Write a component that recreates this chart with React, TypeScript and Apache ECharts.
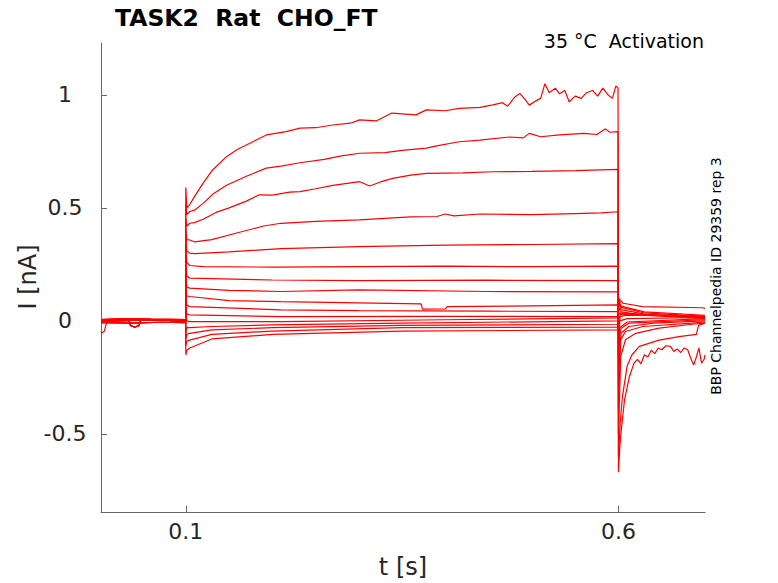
import { useEffect, useRef } from 'react';
import * as echarts from 'echarts';

// time in s, current in nA
const xTicks = [0.1, 0.6];
const yTicks = [-0.5, 0, 0.5, 1];

const preA = [[0.002, -0.055], [0.004, -0.05], [0.006, -0.045], [0.0075, -0.02], [0.009, -0.005], [0.012, 0.003], [0.03, 0.0], [0.05, 0.004], [0.0998, 0.002]];
const preB = [[0.002, 0.002], [0.01, 0.0], [0.02, 0.006], [0.034, 0.004], [0.036, -0.02], [0.041, -0.028], [0.046, -0.02], [0.048, 0.005], [0.07, 0.003], [0.0998, 0.0]];
const preC = [[0.002, -0.003], [0.02, 0.0], [0.05, 0.005], [0.08, 0.002], [0.0998, -0.002]];
const preD = [[0.002, 0.006], [0.03, 0.01], [0.06, 0.008], [0.0998, 0.006]];
const preE = [[0.002, -0.008], [0.04, -0.01], [0.07, -0.006], [0.0998, -0.008]];

const step1 = [[0.1, 0.59], [0.1012, 0.5], [0.1046, 0.515], [0.11, 0.55], [0.12, 0.61], [0.131, 0.668], [0.147, 0.727], [0.16, 0.76], [0.174, 0.786], [0.193, 0.823], [0.216, 0.838], [0.232, 0.853], [0.25, 0.855], [0.27, 0.867], [0.29, 0.875], [0.301, 0.89], [0.32, 0.885], [0.338, 0.92], [0.366, 0.912], [0.378, 0.934], [0.4, 0.93], [0.416, 0.941], [0.44, 0.945], [0.455, 0.956], [0.466, 0.966], [0.472, 0.95], [0.48, 0.99], [0.486, 1.007], [0.492, 0.98], [0.497, 0.955], [0.505, 0.975], [0.51, 0.985], [0.515, 1.05], [0.52, 1.01], [0.527, 1.03], [0.532, 1.005], [0.538, 1.02], [0.543, 0.97], [0.55, 0.995], [0.557, 0.985], [0.563, 1.01], [0.57, 1.02], [0.576, 0.995], [0.582, 1.03], [0.588, 1.0], [0.593, 0.985], [0.597, 1.04], [0.5995, 1.03]];
const tail1 = [[0.6, -0.67], [0.6015, -0.56], [0.6033, -0.48], [0.607, -0.35], [0.6127, -0.246], [0.618, -0.187], [0.622, -0.17], [0.626, -0.19], [0.63, -0.15], [0.634, -0.16], [0.638, -0.13], [0.642, -0.145], [0.646, -0.12], [0.65, -0.128], [0.655, -0.11], [0.66, -0.113], [0.664, -0.135], [0.668, -0.125], [0.672, -0.14], [0.676, -0.12], [0.68, -0.128], [0.684, -0.17], [0.687, -0.195], [0.69, -0.16], [0.693, -0.12], [0.696, -0.187], [0.699, -0.17], [0.7, -0.15]];

const step2 = [[0.1, 0.52], [0.1012, 0.47], [0.1046, 0.484], [0.11, 0.49], [0.12, 0.52], [0.131, 0.56], [0.147, 0.6], [0.17, 0.64], [0.193, 0.676], [0.21, 0.685], [0.232, 0.7], [0.26, 0.715], [0.28, 0.73], [0.301, 0.742], [0.33, 0.745], [0.35, 0.755], [0.378, 0.765], [0.39, 0.775], [0.416, 0.793], [0.44, 0.8], [0.474, 0.814], [0.49, 0.81], [0.497, 0.83], [0.51, 0.815], [0.532, 0.823], [0.56, 0.83], [0.575, 0.825], [0.585, 0.85], [0.59, 0.835], [0.5995, 0.838]];
const tail2 = [[0.6, -0.6], [0.602, -0.45], [0.6046, -0.335], [0.61, -0.2], [0.6156, -0.15], [0.6242, -0.113], [0.647, -0.085], [0.67, -0.07], [0.69, -0.06], [0.6925, -0.02], [0.7, -0.01]];

const step3 = [[0.1, 0.45], [0.1012, 0.42], [0.1046, 0.432], [0.11, 0.435], [0.12, 0.45], [0.135, 0.48], [0.15, 0.5], [0.17, 0.53], [0.185, 0.558], [0.2, 0.557], [0.22, 0.57], [0.232, 0.572], [0.25, 0.585], [0.27, 0.6], [0.301, 0.616], [0.3125, 0.597], [0.325, 0.615], [0.339, 0.631], [0.36, 0.645], [0.378, 0.653], [0.42, 0.655], [0.455, 0.66], [0.5, 0.662], [0.55, 0.665], [0.5995, 0.671]];
const tail3 = [[0.6, -0.5], [0.6015, -0.3], [0.6025, -0.158], [0.6081, -0.084], [0.62, -0.055], [0.647, -0.032], [0.685, -0.015], [0.7, -0.01]];

const step4 = [[0.1, 0.4], [0.1012, 0.36], [0.1046, 0.358], [0.11, 0.35], [0.13, 0.36], [0.16, 0.39], [0.19, 0.42], [0.21, 0.432], [0.25, 0.44], [0.3, 0.447], [0.36, 0.46], [0.39, 0.462], [0.4, 0.473], [0.41, 0.465], [0.44, 0.473], [0.5, 0.47], [0.55, 0.475], [0.58, 0.478], [0.5995, 0.483]];
const tail4 = [[0.6, -0.4], [0.6015, -0.2], [0.6025, -0.084], [0.6081, -0.047], [0.628, -0.025], [0.685, -0.01], [0.7, -0.005]];

const step5 = [[0.1, 0.36], [0.1012, 0.31], [0.1046, 0.3], [0.11, 0.298], [0.15, 0.305], [0.21, 0.32], [0.3, 0.329], [0.4, 0.335], [0.5, 0.338], [0.5995, 0.342]];
const tail5 = [[0.6, -0.3], [0.6015, -0.12], [0.603, -0.055], [0.612, -0.025], [0.64, -0.01], [0.7, 0.0]];

const step6 = [[0.1, 0.3], [0.1012, 0.26], [0.1046, 0.245], [0.12, 0.24], [0.2, 0.238], [0.3, 0.24], [0.4, 0.242], [0.5, 0.24], [0.5995, 0.242]];
const tail6 = [[0.6, -0.2], [0.6015, -0.06], [0.603, -0.033], [0.612, -0.01], [0.7, 0.005]];

const step7 = [[0.1, 0.25], [0.1012, 0.2], [0.1046, 0.189], [0.2, 0.181], [0.3, 0.178], [0.45, 0.18], [0.5995, 0.178]];
const tail7 = [[0.6, -0.15], [0.6015, -0.03], [0.61, -0.005], [0.7, 0.01]];

const step8 = [[0.1, 0.2], [0.1012, 0.15], [0.1046, 0.145], [0.15, 0.135], [0.21, 0.13], [0.3, 0.137], [0.45, 0.13], [0.5995, 0.128]];
const tail8 = [[0.6, -0.1], [0.6015, 0.0], [0.61, 0.01], [0.7, 0.015]];

const step9 = [[0.1, 0.15], [0.1012, 0.11], [0.1046, 0.108], [0.15, 0.09], [0.21, 0.085], [0.3, 0.08], [0.372, 0.075], [0.3735, 0.052], [0.4, 0.053], [0.402, 0.063], [0.5, 0.066], [0.5995, 0.071]];
const tail9 = [[0.6, -0.05], [0.602, 0.02], [0.61, 0.025], [0.7, 0.02]];

const step10 = [[0.1, 0.1], [0.1012, 0.07], [0.1046, 0.063], [0.21, 0.049], [0.3, 0.045], [0.45, 0.043], [0.5995, 0.041]];
const tail10 = [[0.6, 0.0], [0.602, 0.03], [0.7, 0.02]];

const step11 = [[0.1, 0.06], [0.1012, 0.03], [0.1046, 0.027], [0.21, 0.019], [0.4, 0.02], [0.5995, 0.019]];
const tail11 = [[0.6, 0.03], [0.602, 0.035], [0.64, 0.025], [0.7, 0.015]];

const step12 = [[0.1, 0.03], [0.1012, 0.0], [0.1046, -0.003], [0.21, -0.003], [0.4, 0.005], [0.5995, 0.013]];
const tail12 = [[0.6, 0.06], [0.603, 0.04], [0.63, 0.025], [0.7, 0.01]];

const step13 = [[0.1, -0.05], [0.1012, -0.03], [0.1046, -0.03], [0.13, -0.025], [0.2, -0.018], [0.35, -0.01], [0.5995, 0.0]];
const tail13 = [[0.6, 0.08], [0.603, 0.05], [0.63, 0.03], [0.7, 0.015]];

const step14 = [[0.1, -0.08], [0.1012, -0.06], [0.1046, -0.055], [0.13, -0.04], [0.2, -0.03], [0.35, -0.02], [0.5995, -0.015]];
const tail14 = [[0.6, 0.09], [0.603, 0.06], [0.63, 0.035], [0.7, 0.02]];

const step15 = [[0.1, -0.11], [0.1012, -0.09], [0.1046, -0.085], [0.13, -0.06], [0.2, -0.045], [0.35, -0.03], [0.5995, -0.028]];
const tail15 = [[0.6, 0.1], [0.603, 0.065], [0.63, 0.04], [0.7, 0.025]];

const step16 = [[0.1, -0.15], [0.1012, -0.13], [0.1046, -0.12], [0.13, -0.08], [0.2, -0.06], [0.35, -0.045], [0.5995, -0.04]];
const tail16 = [[0.6, 0.11], [0.6005, 0.1], [0.6052, 0.078], [0.628, 0.063], [0.697, 0.058], [0.7, 0.055]];

const traces = [
  [...preA, ...step1, ...tail1],
  [...preC, ...step2, ...tail2],
  [...preB, ...step3, ...tail3],
  [...preD, ...step4, ...tail4],
  [...preC, ...step5, ...tail5],
  [...preB, ...step6, ...tail6],
  [...preE, ...step7, ...tail7],
  [...preD, ...step8, ...tail8],
  [...preB, ...step9, ...tail9],
  [...preC, ...step10, ...tail10],
  [...preE, ...step11, ...tail11],
  [...preD, ...step12, ...tail12],
  [...preB, ...step13, ...tail13],
  [...preC, ...step14, ...tail14],
  [...preE, ...step15, ...tail15],
  [...preC, ...step16, ...tail16],
];

const FONT = '"DejaVu Sans", sans-serif';
const AXIS_GRAY = '#666666';

export default function App() {
  const chartRef = useRef<HTMLDivElement>(null);

  useEffect(() => {
    if (!chartRef.current) return;
    const chart = echarts.init(chartRef.current, undefined, { renderer: 'svg' });

    chart.setOption({
      animation: false,
      backgroundColor: '#ffffff',
      grid: { left: 101, right: 73, top: 43, bottom: 71, containLabel: false },
      xAxis: {
        type: 'value',
        min: 0.002,
        max: 0.7,
        splitLine: { show: false },
        axisLine: { show: true, onZero: false, lineStyle: { color: AXIS_GRAY, width: 1 } },
        axisTick: { show: true, inside: true, length: 6, customValues: xTicks, lineStyle: { color: AXIS_GRAY } },
        axisLabel: {
          customValues: xTicks,
          color: '#262626',
          fontSize: 22,
          fontFamily: FONT,
          margin: 8,
        },
      },
      yAxis: {
        type: 'value',
        min: -0.846,
        max: 1.23,
        splitLine: { show: false },
        axisLine: { show: true, onZero: false, lineStyle: { color: AXIS_GRAY, width: 1 } },
        axisTick: { show: true, inside: true, length: 6, customValues: yTicks, lineStyle: { color: AXIS_GRAY } },
        axisLabel: {
          customValues: yTicks,
          color: '#262626',
          fontSize: 22,
          fontFamily: FONT,
          margin: 36,
          align: 'center',
        },
      },
      series: traces.map((d, i) => ({
        name: 'trace' + (i + 1),
        type: 'line',
        data: d,
        showSymbol: false,
        silent: true,
        lineStyle: { color: '#ff0000', width: 1.2 },
      })),
      graphic: [
        {
          type: 'text',
          x: 115,
          y: 18,
          style: {
            text: 'TASK2  Rat  CHO_FT',
            font: 'bold 23.5px ' + FONT,
            fill: '#000000',
            textAlign: 'left',
            textVerticalAlign: 'middle',
          },
        },
        {
          type: 'text',
          x: 704,
          y: 41,
          style: {
            text: '35 °C  Activation',
            font: '19px ' + FONT,
            fill: '#000000',
            textAlign: 'right',
            textVerticalAlign: 'middle',
          },
        },
        {
          type: 'text',
          x: 716,
          y: 276,
          rotation: Math.PI / 2,
          style: {
            text: 'BBP Channelpedia ID 29359 rep 3',
            font: '14px ' + FONT,
            fill: '#000000',
            textAlign: 'center',
            textVerticalAlign: 'middle',
          },
        },
        {
          type: 'text',
          x: 403,
          y: 567,
          style: {
            text: 't [s]',
            font: '24px ' + FONT,
            fill: '#262626',
            textAlign: 'center',
            textVerticalAlign: 'middle',
          },
        },
        {
          type: 'text',
          x: 28,
          y: 277,
          rotation: Math.PI / 2,
          style: {
            text: 'I [nA]',
            font: '24px ' + FONT,
            fill: '#262626',
            textAlign: 'center',
            textVerticalAlign: 'middle',
          },
        },
      ],
    });

    return () => {
      chart.dispose();
    };
  }, []);

  return (
    <div
      ref={chartRef}
      style={{ position: 'fixed', left: 0, top: 0, width: 778, height: 583, background: '#fff' }}
    />
  );
}
